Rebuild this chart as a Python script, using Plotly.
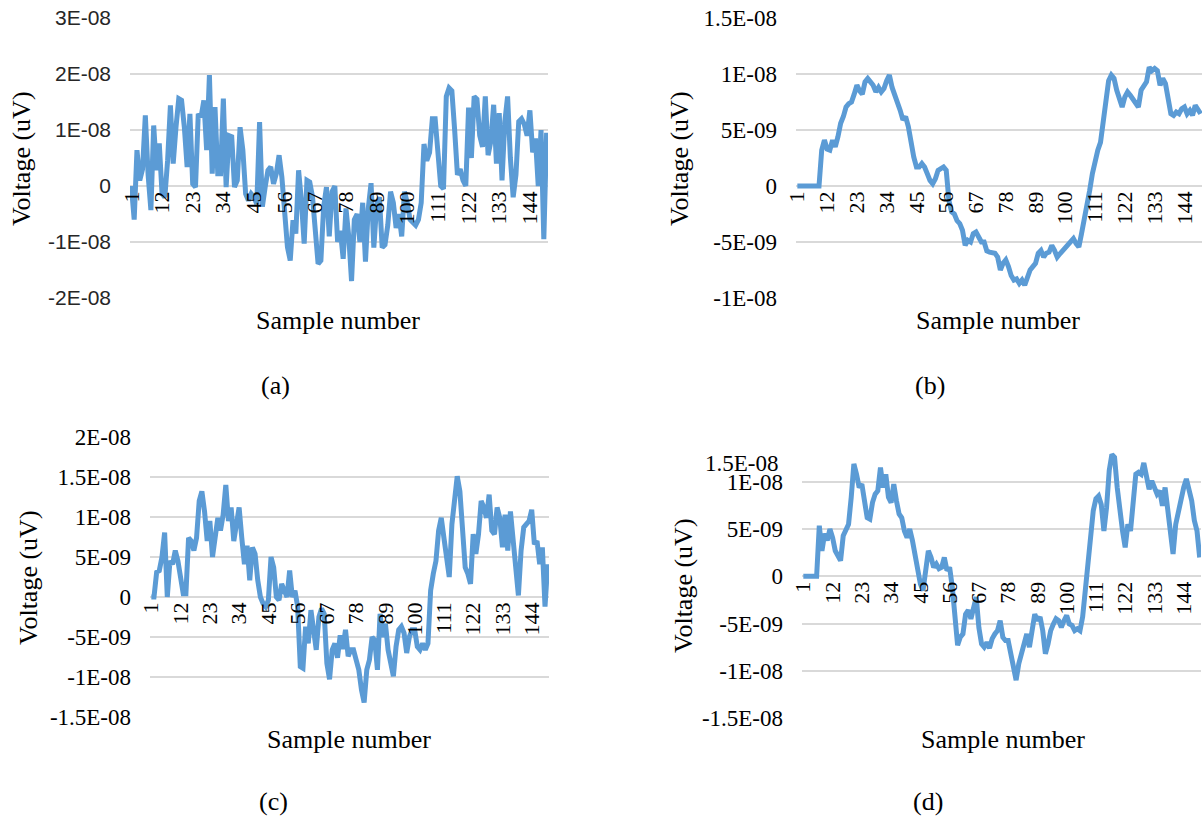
import plotly.graph_objects as go

# ---------------- data (values in units of 1e-9 V) ----------------
samples = list(range(1, 151))
x_tick_vals = [1, 12, 23, 34, 45, 56, 67, 78, 89, 100, 111, 122, 133, 144]
x_tick_text = [str(v) for v in x_tick_vals]

series_a = [0, -6, 6.4, 1, 3, 12.6, 2, -4.3, 10.8, 2.8,
            7.6, -1.4, -2, 4.6, 14.4, 4, 10.5, 15.6, 15.3, 10.5,
            3.4, 12.9, 0.4, -0.2, 12.9, 12.3, 15.3, 6.4, 19.8, 2.2,
            14.1, 2.2, 2.2, 15.6, -0.2, 9, 8.8, -0.2, 1, 10.5,
            6.4, -1.4, -2.6, -1.4, -2, -3.2, 11.4, -3.7, -0.2, 2.8,
            3.4, 0.4, 2.2, 5.5, 1.6, -4.3, -10.9, -13.3, -6.1, -8.5,
            2.8, -2.6, -10.3, 1, 0.7, -2, -7.3, -13.9, -13.3, -3.7,
            -0.2, -9, -1, 0, -10, -8, -13, -4, -9, -17,
            -6, -5, -10, -3, -13.5, -4, 0.5, -11, -3.5, -2,
            -11, -10.5, -7, -1, -3, -7.5, -5, -9, -1, -3,
            -6, -6.5, -7, -6, -3, 7.5, 4.5, 6, 12, 12,
            6, 0, -0.5, 16, 17.5, 17, 10, 2, 3, 1,
            0, 14, 5, 16, 15.5, 9, 7, 16, 5.5, 8,
            14.5, 4, 13, 1, 11.5, 16, 5, -2, 2, 11.5,
            12, 11, 9, 13.5, 6, 8.5, 0, 10, -9.5, 9.5]

series_b = [0, 0, 0, 0, 0, 0, 0, 0, 0, 3.2,
            4.1, 3.3, 3.2, 4.1, 3.5, 4.4, 5.6, 6.2, 7.05, 7.35,
            7.5, 8.2, 9.0, 8.5, 8.2, 9.3, 9.6, 9.3, 9.0, 8.4,
            8.8, 8.4, 8.7, 9.4, 9.9, 8.8, 8.2, 7.65, 6.75, 5.9,
            6.2, 5.3, 3.8, 2.6, 1.7, 1.7, 2.0, 1.7, 1.1, 0.5,
            0.2, 0.65, 1.4, 1.55, 1.7, 1.4, -1.3, -2.3, -2.5, -3.1,
            -3.35, -3.95, -5.3, -4.85, -5.0, -4.25, -4.1, -4.55, -5.0, -5.0,
            -5.8, -5.9, -5.9, -6.0, -6.35, -7.5, -6.9, -6.6, -7.2, -8.0,
            -8.4, -8.3, -8.7, -8.4, -8.85, -8.1, -7.5, -7.2, -6.9, -6.0,
            -5.75, -6.35, -6.0, -5.9, -5.3, -5.75, -6.35, -6.05, -5.75, -5.45,
            -5.15, -4.85, -4.7, -5.15, -5.45, -4.25, -3.1, -1.9, -0.4, 1.1,
            2.3, 3.2, 3.9, 5.85, 8.2, 9.4, 9.9, 9.6, 8.55, 7.65,
            7.05, 7.95, 8.4, 8.1, 7.8, 7.5, 7.05, 8.55, 9.0, 9.3,
            10.6, 10.3, 10.5, 10.3, 9.0, 9.6, 9.15, 7.95, 6.45, 6.3,
            6.6, 6.45, 6.9, 7.05, 6.45, 6.75, 6.3, 7.2, 6.9, 6.45]

series_c = [0, 0, 3.1, 3.3, 5.0, 8.05, 0.0, 4.5, 4.1, 5.8,
            4.5, 2.5, 0.4, 0.4, 7.4, 7.0, 5.8, 7.4, 12.0, 13.2,
            10.7, 7.0, 9.5, 5.0, 7.4, 9.9, 8.3, 10.3, 14.0, 9.5,
            11.2, 7.0, 9.1, 11.2, 7.4, 4.1, 6.4, 2.1, 6.2, 5.4,
            2.1, 0.0, -0.8, -1.2, -0.4, 5.0, 3.7, 0.0, -0.4, 1.65,
            0.8, 0.0, 3.3, 0.0, 0.8, -1.2, -8.7, -8.9, -3.7, -5.8,
            -1.65, -3.7, -6.6, -2.5, -1.45, -2.1, -8.3, -10.3, -6.6, -5.8,
            -7.6, -4.8, -6.5, -4.1, -7.4, -6.6, -6.6, -7.85, -9.1, -11.6,
            -13.2, -9.1, -7.85, -5.0, -5.4, -9.1, -2.1, -5.0, -3.3, -6.6,
            -8.3, -9.9, -6.2, -4.1, -3.7, -4.5, -7.0, -5.0, -4.1, -4.1,
            -6.2, -6.6, -5.8, -6.6, -5.8, 0.8, 2.9, 4.5, 8.3, 9.9,
            7.4, 5.4, 2.5, 9.1, 12.8, 15.1, 13.2, 8.3, 3.7, 2.9,
            1.65, 7.85, 5.4, 7.85, 12.0, 11.2, 9.9, 12.8, 8.3, 7.85,
            11.2, 9.9, 6.2, 10.3, 5.8, 10.7, 7.4, 2.9, 0.2, 5.8,
            8.7, 9.1, 9.5, 10.9, 6.6, 7.0, 4.1, 6.2, -1.2, 4.1]

series_d = [0, 0, 0, 0, 0, 0, 5.35, 2.7, 4.5, 3.8,
            5.0, 4.1, 2.7, 2.0, 1.65, 4.3, 4.8, 5.5, 8.35, 11.9,
            10.8, 9.4, 9.75, 8.0, 6.2, 6.05, 7.8, 8.7, 9.05, 11.5,
            9.4, 10.8, 8.35, 7.8, 9.75, 8.0, 6.6, 6.2, 4.8, 4.1,
            5.0, 3.8, 2.35, 0.6, -0.8, -1.5, 0.6, 2.7, 2.0, 0.95,
            1.3, 0.8, 0.95, 2.0, 0.6, 0.95, -1.15, -4.7, -7.3, -6.45,
            -6.1, -4.0, -3.6, -4.5, -3.3, -2.2, -5.45, -7.15, -7.5, -7.0,
            -7.6, -6.6, -6.1, -5.75, -4.7, -6.45, -6.8, -6.8, -8.2, -9.6,
            -11.0, -9.25, -8.2, -6.8, -6.1, -7.5, -5.4, -4.0, -4.7, -4.3,
            -5.75, -8.2, -7.15, -5.75, -5.05, -4.5, -4.7, -5.4, -4.7, -4.15,
            -5.05, -5.2, -5.75, -5.55, -5.75, -4.3, -1.5, 1.65, 4.5, 6.95,
            8.2, 8.5, 7.6, 4.8, 7.3, 11.2, 12.9, 12.6, 9.4, 6.6,
            4.8, 3.05, 5.5, 4.8, 8.7, 10.8, 11.0, 10.8, 12.0, 10.8,
            9.2, 10.1, 9.4, 8.7, 9.05, 7.45, 9.4, 6.95, 3.75, 2.35,
            5.5, 6.95, 8.0, 9.4, 10.3, 9.05, 8.0, 5.9, 4.8, 2.0]

y_ticks_a = [-2e-8, -1e-8, 0, 1e-8, 2e-8, 3e-8]
y_text_a = ["-2E-08", "-1E-08", "0", "1E-08", "2E-08", "3E-08"]
y_ticks_b = [-1e-8, -5e-9, 0, 5e-9, 1e-8, 1.5e-8]
y_text_b = ["-1E-08", "-5E-09", "0", "5E-09", "1E-08", "1.5E-08"]
y_ticks_c = [-1.5e-8, -1e-8, -5e-9, 0, 5e-9, 1e-8, 1.5e-8, 2e-8]
y_text_c = ["-1.5E-08", "-1E-08", "-5E-09", "0", "5E-09", "1E-08", "1.5E-08", "2E-08"]
y_ticks_d = [-1.5e-8, -1e-8, -5e-9, 0, 5e-9, 1e-8]
y_text_d = ["-1.5E-08", "-1E-08", "-5E-09", "0", "5E-09", "1E-08"]

captions = ["(a)", "(b)", "(c)", "(d)"]
x_title = "Sample number"
y_title = "Voltage (uV)"

# ---------------- layout ----------------
W, H = 1203, 818
SERIF = "Liberation Serif, Times New Roman, serif"
SANS = "Liberation Sans, Arial, sans-serif"
LINE_COLOR = "#5B9BD5"
GRID = "#D9D9D9"

panels = [
    # (series, px box (x0,x1,ytop,ybottom), y range, tickvals, ticktext, font family, size, colour)
    (series_a, (130, 548, 18, 298), (-2e-8, 3e-8), y_ticks_a, y_text_a, SANS, 21, "#262626"),
    (series_b, (796, 1202, 18, 298), (-1e-8, 1.5e-8), y_ticks_b, y_text_b, SERIF, 23, "black"),
    (series_c, (150, 549, 437, 717), (-1.5e-8, 2e-8), y_ticks_c, y_text_c, SERIF, 23, "black"),
    (series_d, (802, 1201, 444, 718), (-1.5e-8, 1.4e-8), y_ticks_d, y_text_d, SERIF, 23, "black"),
]

fig = go.Figure()
layout = dict(width=W, height=H, margin=dict(l=0, r=0, t=0, b=0, autoexpand=False),
              paper_bgcolor="white", plot_bgcolor="white", showlegend=False,
              template="none")

for k, (ser, box, yr, tv, tt, fam, fsz, fcol) in enumerate(panels):
    n = "" if k == 0 else str(k + 1)
    x0, x1, yt, yb = box
    ydom = [1 - yb / H, 1 - yt / H]
    zero_pos = ydom[0] + (0 - yr[0]) / (yr[1] - yr[0]) * (ydom[1] - ydom[0])
    fig.add_trace(go.Scatter(
        x=samples, y=[v * 1e-9 for v in ser], mode="lines",
        line=dict(color=LINE_COLOR, width=5),
        xaxis="x" + n, yaxis="y" + n, hoverinfo="skip"))
    layout["xaxis" + n] = dict(
        domain=[x0 / W, x1 / W], range=[0.5, 150.5], anchor="free", position=zero_pos,
        tickmode="array", tickvals=x_tick_vals, ticktext=x_tick_text, tickangle=-90,
        tickfont=dict(family=SERIF, size=22, color="black"), automargin=False,
        showgrid=False, zeroline=False, showline=False, ticks="")
    layout["yaxis" + n] = dict(
        domain=ydom, range=list(yr), anchor="x" + n, automargin=False,
        tickmode="array", tickvals=tv, ticktext=tt,
        tickfont=dict(family=fam, size=fsz, color=fcol),
        showgrid=True, gridcolor=GRID, gridwidth=1.5,
        zeroline=False, showline=False, ticks="", ticklabelstandoff=18)

fig.update_layout(**layout)

ann = []
ytitle_pos = [(22, 159), (680, 159), (28, 578), (683, 586)]
xtitle_pos = [(338, 321), (998, 321), (349, 739), (1003, 739)]
cap_pos = [(275, 385), (930, 385), (273, 801), (928, 801)]
for k in range(4):
    ann.append(dict(text=y_title, x=ytitle_pos[k][0] / W, y=1 - ytitle_pos[k][1] / H,
                    xref="paper", yref="paper", showarrow=False, textangle=-90,
                    xanchor="center", yanchor="middle",
                    font=dict(family=SERIF, size=26, color="black")))
    ann.append(dict(text=x_title, x=xtitle_pos[k][0] / W, y=1 - xtitle_pos[k][1] / H,
                    xref="paper", yref="paper", showarrow=False,
                    xanchor="center", yanchor="middle",
                    font=dict(family=SERIF, size=26, color="black")))
    ann.append(dict(text=captions[k], x=cap_pos[k][0] / W, y=1 - cap_pos[k][1] / H,
                    xref="paper", yref="paper", showarrow=False,
                    xanchor="center", yanchor="middle",
                    font=dict(family=SERIF, size=26, color="black")))
# label for the top value of panel (d), which sits above its first gridline
ann.append(dict(text="1.5E-08", x=780 / W, y=1 - 463 / H, xref="paper", yref="paper",
                showarrow=False, xanchor="right", yanchor="middle",
                font=dict(family=SERIF, size=23, color="black")))
fig.update_layout(annotations=ann)

# remove the browser's default page margin so the figure sits at the window's corner
fig.write_html("out.html", config={"displayModeBar": False},
               post_script="document.body.style.margin='0px';"
                           "document.body.style.overflow='hidden';")
